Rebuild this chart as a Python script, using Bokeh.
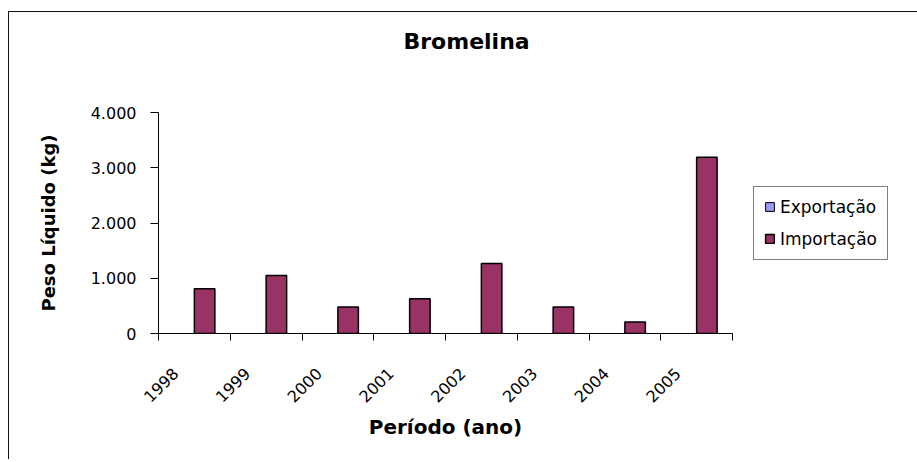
import numpy as np
from bokeh.plotting import figure
from bokeh.models import (Range1d, FixedTicker, CustomJSTickFormatter, Legend,
                          LegendItem, ColumnDataSource)
from bokeh.embed import file_html
from bokeh.resources import INLINE

# ---- data ----
years = ["1998", "1999", "2000", "2001", "2002", "2003", "2004", "2005"]
exportacao = [0, 0, 0, 0, 0, 0, 0, 0]
importacao = [810, 1050, 480, 630, 1265, 480, 210, 3190]
y_ticks = [0, 1000, 2000, 3000, 4000]
y_tick_labels = ["0", "1.000", "2.000", "3.000", "4.000"]
series_names = ["Exportação", "Importação"]
series_colors = ["#9999FF", "#993366"]

FONT = "DejaVu Sans"
n = len(years)
bar_w = 1 / 3.5
label_shift = 0.265
idx = np.arange(n)

src = ColumnDataSource(dict(
    x_exp=idx + 0.5 - bar_w / 2,
    x_imp=idx + 0.5 + bar_w / 2,
    exp=exportacao,
    imp=importacao,
))

p = figure(frame_width=574, frame_height=221,
           output_backend="svg", toolbar_location=None,
           x_range=Range1d(0, n), y_range=Range1d(0, 4000),
           min_border_left=149, min_border_right=183,
           min_border_top=100, min_border_bottom=126)
p.outline_line_color = None
p.xgrid.grid_line_color = None
p.ygrid.grid_line_color = None
p.background_fill_color = "white"
p.border_fill_color = "white"
p.styles = {"margin-top": "11px", "margin-left": "8px",
            "border-top": "1px solid #111111",
            "border-left": "1px solid #111111"}

xa = p.below[0]
ya = p.left[0]

r_exp = p.vbar(x="x_exp", top="exp", width=bar_w, source=src,
               fill_color=series_colors[0], line_color="black", line_width=1)
r_imp = p.vbar(x="x_imp", top="imp", width=bar_w, source=src,
               fill_color=series_colors[1], line_color="black", line_width=1.5)

# title
p.title.text = "Bromelina"
p.title.align = "left"
p.title.offset = 245
p.title.standoff = 0
p.title.padding = dict(left=0, right=0, top=0, bottom=59)
p.title.text_font = FONT
p.title.text_font_size = "22px"
p.title.text_font_style = "bold"
p.title.text_color = "black"

# y axis
ya.ticker = FixedTicker(ticks=y_ticks)
ya.major_label_overrides = {t: l for t, l in zip(y_ticks, y_tick_labels)}
ya.minor_tick_line_color = None
ya.major_tick_out = 8
ya.major_tick_in = 0
ya.major_label_standoff = 14
ya.major_label_text_font = FONT
ya.major_label_text_font_size = "16px"
ya.major_label_text_color = "black"
ya.axis_line_color = "black"
ya.major_tick_line_color = "black"
ya.axis_label = "Peso Líquido (kg)"
ya.axis_label_text_font = FONT
ya.axis_label_text_font_size = "18px"
ya.axis_label_text_font_style = "bold"
ya.axis_label_text_color = "black"
ya.axis_label_standoff = 29

# x axis
xa.ticker = FixedTicker(ticks=list(idx + 0.5 - label_shift),
                        minor_ticks=list(range(n + 1)))
xa.formatter = CustomJSTickFormatter(args=dict(labels=years),
                                     code="return labels[Math.floor(tick)] || '';")
xa.major_tick_out = 0
xa.major_tick_in = 0
xa.minor_tick_out = 7
xa.minor_tick_in = 0
xa.minor_tick_line_color = "black"
xa.axis_line_color = "black"
xa.major_label_orientation = np.pi / 4
xa.major_label_standoff = 30
xa.major_label_text_font = FONT
xa.major_label_text_font_size = "16px"
xa.major_label_text_color = "black"
xa.axis_label = "Período (ano)"
xa.axis_label_text_font = FONT
xa.axis_label_text_font_size = "20px"
xa.axis_label_text_font_style = "bold"
xa.axis_label_text_color = "black"
xa.axis_label_standoff = 4

# legend
legend = Legend(items=[LegendItem(label=series_names[0], renderers=[r_exp]),
                       LegendItem(label=series_names[1], renderers=[r_imp])],
                location="center_left")
legend.border_line_color = "black"
legend.border_line_width = 1
legend.padding = 10
legend.spacing = 12
legend.margin = 21
legend.glyph_width = 11
legend.glyph_height = 11
legend.label_standoff = 5
legend.label_text_font = FONT
legend.label_text_font_size = "17px"
legend.label_text_color = "black"
legend.background_fill_alpha = 1
p.add_layout(legend, "right")

open("out.html", "w").write(file_html(p, INLINE))
